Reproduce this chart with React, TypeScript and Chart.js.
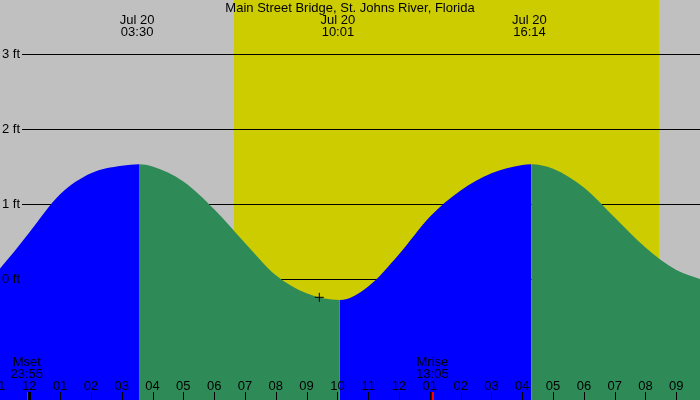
import React, { useEffect, useRef } from "react";
import { Chart, registerables } from "chart.js";
Chart.register(...registerables);

const titleText = "Main Street Bridge, St. Johns River, Florida";

// tide curve (hours from midnight Jul 20, feet)
const tideHours = [-0.951, -0.5, 0, 1, 2, 3, 3.56, 4, 5, 6, 7, 8, 9, 10.08, 11, 12, 13, 14, 15, 16, 16.29, 17, 18, 19, 20, 21, 21.769];
const tideFeet = [0.14, 0.36, 0.62, 1.13, 1.41, 1.51, 1.53, 1.5, 1.3, 0.93, 0.48, 0.05, -0.19, -0.28, -0.1, 0.33, 0.83, 1.18, 1.41, 1.52, 1.53, 1.47, 1.22, 0.82, 0.42, 0.12, 0.0];

// high / low events
const eventHours = [3.5, 10.017, 16.233];
const eventDates = ["Jul 20", "Jul 20", "Jul 20"];
const eventTimes = ["03:30", "10:01", "16:14"];

// sun
const sunriseHour = 6.644;
const sunsetHour = 20.448;

// moon
const moonHours = [-0.0833, 13.083];
const moonNames = ["Mset", "Mrise"];
const moonTimes = ["23:55", "13:05"];

// current marker
const markerHours = [9.413];
const markerFeet = [-0.244];

// axes
const feetTicks = [0, 1, 2, 3];
const feetLabels = ["0 ft", "1 ft", "2 ft", "3 ft"];
const hourTicks = [-1, 0, 1, 2, 3, 4, 5, 6, 7, 8, 9, 10, 11, 12, 13, 14, 15, 16, 17, 18, 19, 20, 21];
const hourLabels = ["11", "12", "01", "02", "03", "04", "05", "06", "07", "08", "09", "10", "11", "12", "01", "02", "03", "04", "05", "06", "07", "08", "09"];
const xMin = -0.951;
const xMax = 21.769;
const yMin = -1.6133;
const yMax = 3.72;

const FONT = '13px "Liberation Sans", Arial, sans-serif';
const RISE = "#0000FF";
const FALL = "#2E8B57";

const tidePlugin = {
  id: "tidePlugin",
  beforeDatasetsDraw(chart: any) {
    const { ctx, scales, chartArea } = chart;
    const x = scales.x;
    const y = scales.y;
    ctx.save();
    ctx.fillStyle = "#C0C0C0";
    ctx.fillRect(chartArea.left, chartArea.top, chartArea.right - chartArea.left, chartArea.bottom - chartArea.top);
    const xs = Math.round(x.getPixelForValue(sunriseHour));
    const xe = Math.round(x.getPixelForValue(sunsetHour));
    ctx.fillStyle = "#CCCC00";
    ctx.fillRect(xs, chartArea.top, xe - xs, chartArea.bottom - chartArea.top);
    ctx.fillStyle = "#000";
    feetTicks.forEach((v) => {
      const py = Math.round(y.getPixelForValue(v));
      ctx.fillRect(22, py, chartArea.right - 22, 1);
    });
    ctx.restore();
  },
  afterDatasetsDraw(chart: any) {
    const { ctx, scales, chartArea } = chart;
    const x = scales.x;
    const y = scales.y;
    ctx.save();
    ctx.font = FONT;
    ctx.fillStyle = "#000";
    ctx.textBaseline = "middle";
    // y labels
    ctx.textAlign = "left";
    feetTicks.forEach((v, i) => {
      ctx.fillText(feetLabels[i], 2, y.getPixelForValue(v) + 0.5);
    });
    // title
    ctx.textAlign = "center";
    ctx.fillText(titleText, (chartArea.left + chartArea.right) / 2, 8);
    // event labels
    eventHours.forEach((h, i) => {
      const px = x.getPixelForValue(h);
      ctx.fillText(eventDates[i], px, 20);
      ctx.fillText(eventTimes[i], px, 32);
    });
    // moon markers
    moonHours.forEach((h, i) => {
      const px = x.getPixelForValue(h);
      ctx.fillStyle = "#FF0000";
      ctx.fillRect(Math.round(px), 392, 2, 8);
      ctx.fillStyle = "#000";
      ctx.fillText(moonNames[i], px, 362.5);
      ctx.fillText(moonTimes[i], px, 374.5);
    });
    // hour ticks
    hourTicks.forEach((h, i) => {
      const px = x.getPixelForValue(h);
      ctx.fillStyle = "#000";
      if (h === 0) ctx.fillRect(Math.round(px) - 1, 392, 3, 8);
      else ctx.fillRect(Math.round(px), 392, 1, 8);
      ctx.fillText(hourLabels[i], px, 386.5);
    });
    ctx.restore();
  },
};

export default function App() {
  const ref = useRef<HTMLCanvasElement | null>(null);
  useEffect(() => {
    if (!ref.current) return;
    const tideData = tideHours.map((h, i) => ({ x: h, y: tideFeet[i] }));
    const markerData = markerHours.map((h, i) => ({ x: h, y: markerFeet[i] }));
    const chart = new Chart(ref.current, {
      type: "line",
      data: {
        datasets: [
          {
            data: markerData,
            showLine: false,
            pointStyle: "cross",
            pointRadius: 4.5,
            pointBorderColor: "#000",
            pointBorderWidth: 1,
            pointBackgroundColor: "#000",
            order: 1,
          } as any,
          {
            data: tideData,
            fill: "start",
            backgroundColor: RISE,
            borderColor: "rgba(0,0,0,0)",
            borderWidth: 0,
            pointRadius: 0,
            cubicInterpolationMode: "monotone",
            order: 2,
            segment: {
              backgroundColor: (c: any) => (c.p1.parsed.y >= c.p0.parsed.y ? RISE : FALL),
              borderColor: "rgba(0,0,0,0)",
            },
          } as any,
        ],
      },
      options: {
        responsive: false,
        animation: false,
        layout: { padding: 0, autoPadding: false },
        events: [],
        plugins: { legend: { display: false }, tooltip: { enabled: false }, title: { display: false } },
        scales: {
          x: { type: "linear", min: xMin, max: xMax, display: false },
          y: { type: "linear", min: yMin, max: yMax, display: false },
        },
      } as any,
      plugins: [tidePlugin],
    });
    return () => chart.destroy();
  }, []);
  return (
    <div style={{ position: "fixed", left: 0, top: 0, width: 700, height: 400 }}>
      <canvas ref={ref} width={700} height={400} style={{ display: "block", width: 700, height: 400 }} />
    </div>
  );
}
